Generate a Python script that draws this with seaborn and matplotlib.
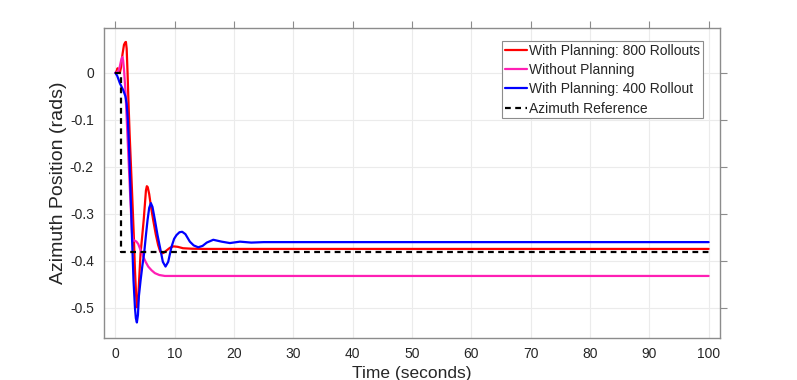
# Azimuth position step response: planning vs no planning

import numpy as np
import pandas as pd
import matplotlib
matplotlib.use("Agg")
import matplotlib.pyplot as plt
import seaborn as sns

# ------------------------------
# Data
# ------------------------------
red_t = [0, 0.2, 0.37, 0.55, 0.75, 0.95, 1.2, 1.45, 1.65, 1.77, 1.9, 2.05,
         2.2, 2.4, 2.84, 3.1, 3.3, 3.5, 3.67, 3.82, 4.0, 4.24, 4.5, 4.77,
         5.0, 5.15, 5.3, 5.45, 5.7, 6.0, 6.37, 6.8, 7.2, 7.55, 7.8, 8.1,
         8.6, 9.2, 9.8, 10.5, 11.4, 12.8, 15.0, 100]
red_y = [0, 0.004, 0.01, 0.004, 0.0, 0.012, 0.04, 0.06, 0.065, 0.066, 0.052,
         0.0, -0.06, -0.13, -0.263, -0.345, -0.42, -0.475, -0.499, -0.485,
         -0.441, -0.384, -0.35, -0.313, -0.275, -0.25, -0.241, -0.243,
         -0.258, -0.285, -0.313, -0.343, -0.366, -0.38, -0.384, -0.383,
         -0.378, -0.372, -0.369, -0.370, -0.373, -0.374, -0.3745, -0.3745]

pink_t = [0, 0.3, 0.55, 0.75, 0.95, 1.08, 1.18, 1.3, 1.45, 1.7, 1.99, 2.5,
          2.8, 2.95, 3.1, 3.3, 3.55, 3.85, 4.25, 4.69, 5.1, 5.53, 6.1, 6.66,
          7.4, 8.34, 10.0, 100]
pink_y = [0, 0.002, 0.006, 0.014, 0.026, 0.032, 0.034, 0.027, 0.008, -0.04,
          -0.121, -0.263, -0.340, -0.354, -0.357, -0.357, -0.359, -0.364,
          -0.377, -0.391, -0.402, -0.412, -0.420, -0.426, -0.430, -0.432,
          -0.432, -0.432]

blue_t = [0, 0.3, 0.76, 1.3, 1.7, 1.9, 2.1, 2.3, 2.55, 2.8, 3.05, 3.3, 3.45,
          3.62, 3.8, 3.96, 4.25, 4.55, 4.86, 5.15, 5.42, 5.7, 5.98, 6.25,
          6.66, 7.1, 7.5, 8.0, 8.45, 8.9, 9.46, 9.9, 10.3, 10.8, 11.26, 11.8,
          12.55, 13.2, 13.96, 14.7, 15.4, 16.5, 17.9, 19.3, 21.0, 22.9, 25.0,
          100]
blue_y = [0, -0.006, -0.022, -0.036, -0.05, -0.065, -0.10, -0.16, -0.25,
          -0.35, -0.441, -0.50, -0.522, -0.531, -0.515, -0.475, -0.441,
          -0.41, -0.382, -0.345, -0.313, -0.287, -0.277, -0.285, -0.313,
          -0.345, -0.37, -0.402, -0.412, -0.402, -0.37, -0.353, -0.345,
          -0.339, -0.338, -0.343, -0.359, -0.367, -0.371, -0.368, -0.361,
          -0.355, -0.359, -0.362, -0.359, -0.361, -0.360, -0.360]

ref_t = [0, 0.9, 0.9, 100]
ref_y = [0, 0, -0.381, -0.381]

series = [
    ("With Planning: 800 Rollouts", red_t, red_y, "#ff0000", "-"),
    ("Without Planning", pink_t, pink_y, "#ff1fb4", "-"),
    ("With Planning: 400 Rollout", blue_t, blue_y, "#0000ff", "-"),
    ("Azimuth Reference", ref_t, ref_y, "black", "--"),
]


def main():
    sns.set_style("whitegrid")
    plt.rcParams["font.family"] = ["Liberation Sans", "DejaVu Sans"]

    fig = plt.figure(figsize=(7.97, 3.80), dpi=100)
    ax = fig.add_axes([0.1299, 0.1118, 0.904 - 0.1299, 0.9255 - 0.1118])

    for name, t, y, col, ls in series:
        df = pd.DataFrame({"t": t, "y": y})
        sns.lineplot(data=df, x="t", y="y", ax=ax, color=col, lw=1.6,
                     estimator=None, sort=False, label=name)
        if ls == "--":
            ax.lines[-1].set_dashes((2.6, 2.0))

    ax.set_xlim(-2, 102)
    ax.set_ylim(-0.563, 0.095)
    ax.set_xticks(np.arange(0, 101, 10))
    ax.set_yticks([-0.5, -0.4, -0.3, -0.2, -0.1, 0])
    ax.set_yticklabels(["-0.5", "-0.4", "-0.3", "-0.2", "-0.1", "0"])

    # MATLAB-like box and outward ticks
    ax.grid(True, color="#ebebeb", lw=0.8)
    for s in ax.spines.values():
        s.set_visible(True)
        s.set_color("#8c8c8c")
        s.set_linewidth(1.0)
    ax.tick_params(which="both", direction="out", top=True, right=True,
                   length=5, width=0.8, color="#8c8c8c",
                   labelsize=10, labelcolor="#262626", pad=2)

    ax.set_xlabel("Time (seconds)", fontsize=12.5, color="#262626")
    ax.set_ylabel("Azimuth Position (rads)", fontsize=14, color="#262626")
    ax.xaxis.set_label_coords(0.5, -0.092)
    ax.yaxis.set_label_coords(-0.059, 0.5)

    leg = ax.legend(loc="upper right", bbox_to_anchor=(0.9716, 0.959),
                    borderaxespad=0, fontsize=10, frameon=True,
                    fancybox=False, framealpha=1, edgecolor="#8c8c8c",
                    handlelength=1.6, handletextpad=0.15, borderpad=0.2,
                    labelspacing=0.38)
    leg.get_frame().set_linewidth(0.8)

    fig.savefig("out.png", dpi=100, facecolor="white")


if __name__ == "__main__":
    main()
